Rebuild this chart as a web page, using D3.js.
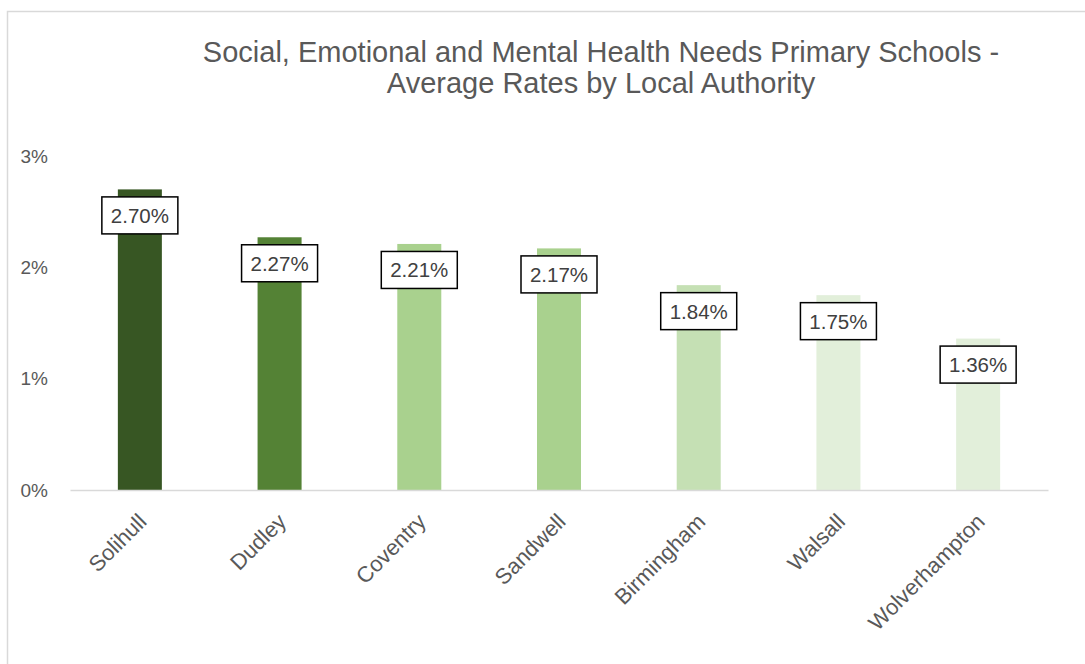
<!DOCTYPE html>
<html><head><meta charset="utf-8">
<script src="https://cdn.jsdelivr.net/npm/d3@7"></script>
<style>body{margin:0;background:#fff}svg{display:block}</style>
</head><body>
<script>
const categories = ["Solihull","Dudley","Coventry","Sandwell","Birmingham","Walsall","Wolverhampton"];
const values = [2.70, 2.27, 2.21, 2.17, 1.84, 1.75, 1.36];
const barColors = ["#375623","#548235","#A9D18E","#A9D18E","#C5E0B4","#E2EFDA","#E2EFDA"];
const yTicks = [0, 1, 2, 3];
const titleLines = ["Social, Emotional and Mental Health Needs Primary Schools -","Average Rates by Local Authority"];

const W = 1085, H = 664;
const FONT = "Liberation Sans, Arial, sans-serif";
const svg = d3.select("body").append("svg").attr("width", W).attr("height", H);
svg.append("rect").attr("x", 7.5).attr("y", 11.5).attr("width", W).attr("height", H)
  .attr("fill", "#fff").attr("stroke", "#d9d9d9").attr("stroke-width", 1.5);

const x = d3.scaleBand().domain(categories).range([70, 1048]).paddingInner(0.685).paddingOuter(0.3425);
const y = d3.scaleLinear().domain([0, 3]).range([490, 156]);

svg.append("g").selectAll("text").data(titleLines).join("text")
  .attr("x", 601).attr("y", (d, i) => 62 + i * 30.5)
  .attr("text-anchor", "middle").attr("fill", "#595959")
  .style("font-family", FONT).style("font-size", "29px")
  .text(d => d);

// y axis labels
const yAxis = d3.axisLeft(y).tickValues(yTicks).tickFormat(d => d + "%").tickSize(0).tickPadding(0);
const ya = svg.append("g").attr("transform", "translate(48,0)").call(yAxis);
ya.select(".domain").remove();
ya.selectAll("text").attr("fill", "#595959").style("font-family", FONT).style("font-size", "19px");

// bars
svg.append("g").selectAll("rect").data(values).join("rect")
  .attr("x", (d, i) => x(categories[i])).attr("width", x.bandwidth())
  .attr("y", d => y(d)).attr("height", d => y(0) - y(d))
  .attr("fill", (d, i) => barColors[i]);

// baseline + x labels
const xAxis = d3.axisBottom(x).tickSize(0).tickPadding(0);
const xa = svg.append("g").attr("transform", "translate(0,490)").call(xAxis);
xa.select(".domain").attr("stroke", "#d9d9d9").attr("stroke-width", 1.5);
xa.selectAll("text").attr("fill", "#595959")
  .style("font-family", FONT).style("font-size", "22px")
  .attr("text-anchor", "end").attr("dy", "0").attr("y", 0)
  .attr("transform", "translate(8,33) rotate(-45)");

// data labels
const lab = svg.append("g").selectAll("g").data(values).join("g")
  .attr("transform", (d, i) => `translate(${x(categories[i]) + x.bandwidth() / 2},${y(d) + 26})`);
lab.append("rect").attr("x", -38).attr("y", -18.5).attr("width", 76).attr("height", 37)
  .attr("fill", "#fff").attr("stroke", "#000").attr("stroke-width", 1.5);
lab.append("text").attr("text-anchor", "middle").attr("dy", "0.36em")
  .attr("fill", "#404040").style("font-family", FONT).style("font-size", "20.5px")
  .text(d => d.toFixed(2) + "%");
</script>
</body></html>
